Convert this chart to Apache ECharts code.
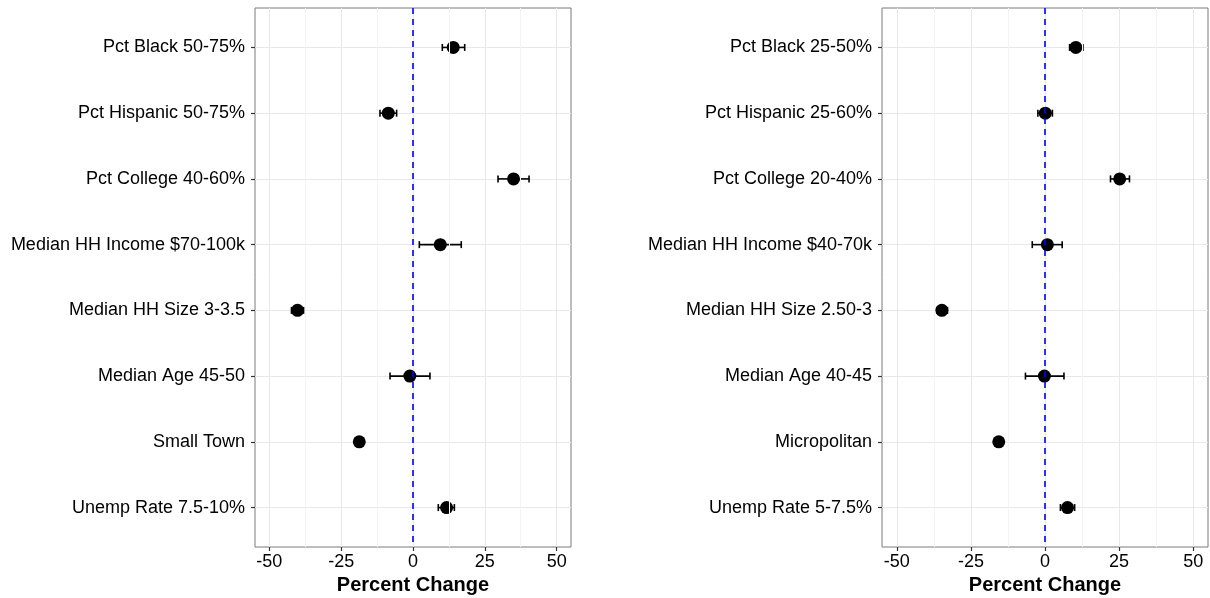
<!DOCTYPE html>
<html>
<head>
<meta charset="utf-8">
<title>Percent Change</title>
<script src="https://cdn.jsdelivr.net/npm/echarts@6/dist/echarts.min.js"></script>
<style>
  html, body { margin: 0; padding: 0; background: #fff; }
  #main { width: 1210px; height: 598px; }
</style>
</head>
<body>
<div id="main"></div>
<script>
// left panel
var leftCats = ['Pct Black 50-75%', 'Pct Hispanic 50-75%', 'Pct College 40-60%', 'Median HH Income $70-100k',
    'Median HH Size 3-3.5', 'Median Age 45-50', 'Small Town', 'Unemp Rate 7.5-10%']
var leftEst = [14.0, -8.6, 35.0, 9.5, -40.2, -1.1, -18.7, 11.7]
var leftLo = [10.2, -11.5, 29.6, 2.2, -42.3, -8.0, -19.4, 8.8]
var leftHi = [18.0, -5.7, 40.4, 16.8, -38.1, 5.9, -18.0, 14.4]

// right panel
var rightCats = ['Pct Black 25-50%', 'Pct Hispanic 25-60%', 'Pct College 20-40%', 'Median HH Income $40-70k',
    'Median HH Size 2.50-3', 'Median Age 40-45', 'Micropolitan', 'Unemp Rate 5-7.5%']
var rightEst = [10.4, 0.1, 25.2, 0.8, -34.8, -0.2, -15.6, 7.6]
var rightLo = [8.3, -2.4, 22.1, -4.3, -36.5, -6.6, -16.3, 5.2]
var rightHi = [12.8, 2.5, 28.5, 5.8, -32.9, 6.4, -15.0, 10.0]

var xTicks = [-50, -25, 0, 25, 50]
var xMinor = [-37.5, -12.5, 12.5, 37.5]
var refLine = 0

var FONT = '"Liberation Sans", Arial, Helvetica, sans-serif'

function rowIdx(cats) {
    return cats.map(function (c, i) { return i })
}

function errorBar(params, api) {
    var lo = api.coord([api.value(0), api.value(2)])
    var hi = api.coord([api.value(1), api.value(2)])
    var h = 3.5
    var st = { stroke: '#000', lineWidth: 1.6 }
    return {
        type: 'group',
        children: [
            { type: 'line', shape: { x1: lo[0], y1: lo[1], x2: hi[0], y2: hi[1] }, style: st },
            { type: 'line', shape: { x1: lo[0], y1: lo[1] - h, x2: lo[0], y2: lo[1] + h }, style: st },
            { type: 'line', shape: { x1: hi[0], y1: hi[1] - h, x2: hi[0], y2: hi[1] + h }, style: st }
        ]
    }
}

function xAxisFor(gi) {
    return {
        type: 'value', gridIndex: gi, min: -55, max: 55,
        name: 'Percent Change', nameLocation: 'middle', nameGap: 27,
        nameTextStyle: { fontFamily: FONT, fontSize: 20, fontWeight: 'bold', color: '#000' },
        axisLine: { show: false, onZero: false },
        axisTick: { show: true, length: 4, customValues: xTicks, lineStyle: { color: '#333', width: 1.2 } },
        axisLabel: { customValues: xTicks, margin: 6, fontFamily: FONT, fontSize: 18, color: '#000' },
        splitLine: { show: true, lineStyle: { color: '#e8e8e8', width: 1 } }
    }
}

function yAxisFor(gi, cats) {
    var idx = rowIdx(cats)
    return {
        type: 'value', gridIndex: gi, inverse: true, min: -0.6, max: cats.length - 0.4,
        axisLine: { show: false, onZero: false },
        axisTick: { show: true, length: 4, customValues: idx, lineStyle: { color: '#333', width: 1.2 } },
        axisLabel: {
            customValues: idx, margin: 10, fontFamily: FONT, fontSize: 18, color: '#000',
            formatter: function (v) { return cats[Math.round(v)] }
        },
        splitLine: { show: true, lineStyle: { color: '#e8e8e8', width: 1 } }
    }
}

function panelSeries(gi, est, lo, hi) {
    var idx = rowIdx(est)
    return [
        {   // minor vertical grid lines
            type: 'scatter', xAxisIndex: gi, yAxisIndex: gi, data: [], z: 1, silent: true,
            markLine: {
                symbol: 'none', silent: true, animation: false, label: { show: false },
                lineStyle: { color: '#f3f3f3', width: 1, type: 'solid' },
                data: xMinor.map(function (v) { return { xAxis: v } })
            }
        },
        {
            type: 'custom', xAxisIndex: gi, yAxisIndex: gi, z: 2,
            renderItem: errorBar,
            encode: { x: [0, 1], y: 2 },
            data: idx.map(function (i) { return [lo[i], hi[i], i] })
        },
        {
            type: 'scatter', xAxisIndex: gi, yAxisIndex: gi, z: 3,
            symbol: 'circle', symbolSize: 13,
            itemStyle: { color: '#000', opacity: 1 },
            data: idx.map(function (i) { return [est[i], i] })
        },
        {   // reference line at zero
            type: 'scatter', xAxisIndex: gi, yAxisIndex: gi, data: [], z: 4, silent: true,
            markLine: {
                symbol: 'none', silent: true, animation: false, label: { show: false },
                lineStyle: { color: '#0000ff', width: 1.6, type: [6, 5] },
                data: [{ xAxis: refLine }]
            }
        }
    ]
}

var myChart = echarts.init(document.getElementById('main'))
myChart.setOption({
    animation: false,
    backgroundColor: '#fff',
    grid: [
        { left: 255, top: 8, width: 316, height: 539, outerBoundsMode: 'none', show: true, borderColor: '#7a7a7a', borderWidth: 1, backgroundColor: 'transparent' },
        { left: 882, top: 8, width: 326, height: 539, outerBoundsMode: 'none', show: true, borderColor: '#7a7a7a', borderWidth: 1, backgroundColor: 'transparent' }
    ],
    xAxis: [xAxisFor(0), xAxisFor(1)],
    yAxis: [yAxisFor(0, leftCats), yAxisFor(1, rightCats)],
    series: panelSeries(0, leftEst, leftLo, leftHi).concat(panelSeries(1, rightEst, rightLo, rightHi))
})
</script>
</body>
</html>
